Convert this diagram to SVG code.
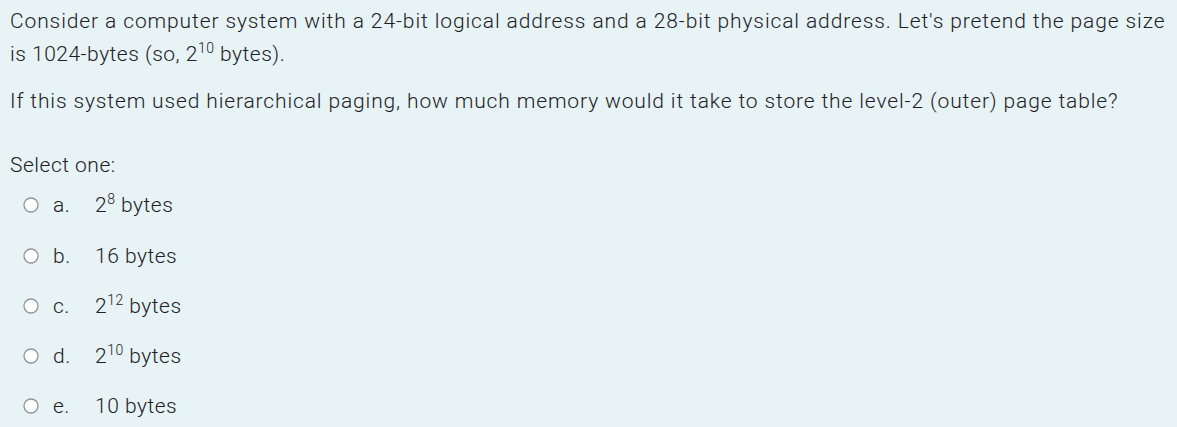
<svg xmlns="http://www.w3.org/2000/svg" width="1177" height="427" viewBox="0 0 1177 427">
<style>
text{font-family:Roboto,"Liberation Sans",sans-serif;font-size:21px;fill:#1d2125;font-weight:300;letter-spacing:0.5px}
.sup{font-size:14px}
circle{fill:#fff;stroke:#8f959e;stroke-width:1.3}
</style>
<rect width="1177" height="427" fill="#e7f3f5"/>
<text x="10" y="28" textLength="1155" lengthAdjust="spacing">Consider a computer system with a 24-bit logical address and a 28-bit physical address.  Let's pretend the page size</text>
<text x="10" y="61">is 1024-bytes (so, 2<tspan class="sup" dy="-8">10</tspan><tspan dy="8"> bytes).</tspan></text>
<text x="10" y="108" textLength="1108" lengthAdjust="spacing">If this system used hierarchical paging, how much memory would it take to store the level-2 (outer) page table?</text>
<text x="10" y="172">Select one:</text>
<g><circle cx="31" cy="205" r="7"/><text x="53" y="212">a.</text><text x="95" y="212">2<tspan class="sup" dy="-8">8</tspan><tspan dy="8"> bytes</tspan></text></g>
<g><circle cx="31" cy="256" r="7"/><text x="53" y="263">b.</text><text x="95" y="263">16 bytes</text></g>
<g><circle cx="31" cy="306" r="7"/><text x="53" y="313">c.</text><text x="95" y="313">2<tspan class="sup" dy="-8">12</tspan><tspan dy="8"> bytes</tspan></text></g>
<g><circle cx="31" cy="356" r="7"/><text x="53" y="363">d.</text><text x="95" y="363">2<tspan class="sup" dy="-8">10</tspan><tspan dy="8"> bytes</tspan></text></g>
<g><circle cx="31" cy="406" r="7"/><text x="53" y="413">e.</text><text x="95" y="413">10 bytes</text></g>
</svg>
